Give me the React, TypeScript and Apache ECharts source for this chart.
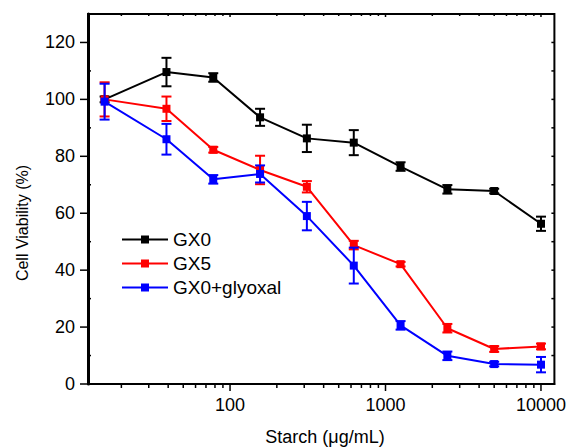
import React, { useEffect, useRef } from "react";
import * as echarts from "echarts";

// ---- data ----
const concentrations = [15.6, 39, 78, 156, 312, 625, 1250, 2500, 5000, 10000];
const seriesNames = ["GX0", "GX5", "GX0+glyoxal"];
const gx0 = [100, 109.6, 107.7, 93.7, 86.3, 84.8, 76.4, 68.4, 67.8, 56.3];
const gx0Err = [1, 5, 1.5, 3, 4.8, 4.4, 1.5, 1.5, 0.8, 2.5];
const gx5 = [100, 96.7, 82.3, 75.2, 69.3, 48.8, 42.1, 19.6, 12.3, 13.2];
const gx5Err = [6, 4.3, 1, 5, 2, 1.5, 0.8, 1.5, 1, 1];
const gx0Gly = [99.2, 86.0, 71.9, 73.8, 59, 41.6, 20.6, 9.9, 7.0, 6.8];
const gx0GlyErr = [6.3, 5.4, 1.5, 3, 5, 6.3, 1.5, 1.5, 0.8, 2.7];
const xMajorTicks = [100, 1000, 10000];
const yMajorTicks = [0, 20, 40, 60, 80, 100, 120];
const yMinorTicks = [10, 30, 50, 70, 90, 110];
const xTitle = "Starch (\u03bcg/mL)";
const yTitle = "Cell Viability (%)";

const X_MIN = 12.2;
const X_MAX = 12200;
const Y_MIN = 0;
const Y_MAX = 130;
const FONT = "'Liberation Sans', Arial, sans-serif";
const colors = ["#000000", "#ff0000", "#0000ff"];

function xMinorTicks(): number[] {
  const out: number[] = [];
  for (let d = 10; d <= 10000; d *= 10) {
    for (let k = 2; k <= 9; k++) {
      const v = d * k;
      if (v > X_MIN && v < X_MAX) out.push(v);
    }
  }
  return out;
}

export default function App() {
  const ref = useRef<HTMLDivElement>(null);
  useEffect(() => {
    if (!ref.current) return;
    const chart = echarts.init(ref.current, undefined, { renderer: "svg" });

    // tick marks: [x, y, dx, dy]
    const ticks: number[][] = [];
    xMajorTicks.forEach((v) => {
      ticks.push([v, Y_MIN, 0, 7]);
      ticks.push([v, Y_MAX, 0, 3]);
    });
    xMinorTicks().forEach((v) => {
      ticks.push([v, Y_MIN, 0, 4]);
      ticks.push([v, Y_MAX, 0, 2]);
    });
    yMajorTicks.forEach((v) => {
      ticks.push([X_MIN, v, -8, 0]);
      ticks.push([X_MAX, v, -3, 0]);
    });
    yMinorTicks.forEach((v) => {
      ticks.push([X_MIN, v, 3, 0]);
      ticks.push([X_MAX, v, -3, 0]);
    });

    const values = [gx0, gx5, gx0Gly];
    const errs = [gx0Err, gx5Err, gx0GlyErr];

    const lineSeries = values.map((vals, i) => ({
      name: seriesNames[i],
      type: "line",
      data: concentrations.map((c, j) => [c, vals[j]]),
      symbol: "rect",
      symbolSize: 8,
      z: 3 + i * 2,
      lineStyle: { color: colors[i], width: 2 },
      itemStyle: { color: colors[i] },
      emphasis: { disabled: true },
    }));

    const errSeries = values.map((vals, i) => ({
      name: seriesNames[i] + "_err",
      type: "custom",
      z: 4 + i * 2,
      clip: false,
      data: concentrations.map((c, j) => [c, vals[j] - errs[i][j], vals[j] + errs[i][j]]),
      encode: { x: 0, y: [1, 2] },
      renderItem: (params: any, api: any) => {
        const lo = api.coord([api.value(0), api.value(1)]);
        const hi = api.coord([api.value(0), api.value(2)]);
        const w = 5;
        const st = { stroke: colors[i], lineWidth: 2 };
        return {
          type: "group",
          children: [
            { type: "line", shape: { x1: lo[0], y1: lo[1], x2: hi[0], y2: hi[1] }, style: st },
            { type: "line", shape: { x1: lo[0] - w, y1: lo[1], x2: lo[0] + w, y2: lo[1] }, style: st },
            { type: "line", shape: { x1: hi[0] - w, y1: hi[1], x2: hi[0] + w, y2: hi[1] }, style: st },
          ],
        };
      },
    }));

    const tickSeries = {
      type: "custom",
      name: "ticks",
      clip: false,
      silent: true,
      z: 10,
      data: ticks,
      renderItem: (params: any, api: any) => {
        const p = api.coord([api.value(0), api.value(1)]);
        const dx = api.value(2);
        const dy = api.value(3);
        return {
          type: "line",
          shape: { x1: p[0], y1: p[1], x2: p[0] + dx, y2: p[1] + dy },
          style: { stroke: "#000", lineWidth: 1.5 },
        };
      },
    };

    chart.setOption({
      animation: false,
      backgroundColor: "#ffffff",
      grid: {
        left: 88,
        right: 14,
        top: 14,
        bottom: 64,
        show: true,
        borderColor: "#000",
        borderWidth: 2,
        backgroundColor: "transparent",
      },
      graphic: [
        {
          type: "text",
          x: 22,
          y: 223,
          rotation: Math.PI / 2,
          style: {
            text: yTitle,
            fontSize: 16,
            fontFamily: FONT,
            fill: "#000",
            textAlign: "center",
            textVerticalAlign: "middle",
          },
        },
        {
          type: "text",
          x: 325,
          y: 437,
          style: {
            text: xTitle,
            fontSize: 18,
            fontFamily: FONT,
            fill: "#000",
            textAlign: "center",
            textVerticalAlign: "middle",
          },
        },
      ],
      legend: {
        data: seriesNames,
        orient: "vertical",
        left: 116,
        top: 225,
        itemWidth: 46,
        itemHeight: 10,
        itemGap: 5,
        textStyle: { fontSize: 19, fontFamily: FONT, color: "#000" },
        selectedMode: false,
      },
      xAxis: {
        type: "log",
        logBase: 10,
        min: X_MIN,
        max: X_MAX,
        axisLine: { show: true, lineStyle: { color: "#000", width: 2 } },
        axisTick: { show: false },
        splitLine: { show: false },
        minorTick: { show: false },
        axisLabel: {
          margin: 12,
          fontSize: 18,
          fontFamily: FONT,
          color: "#000",
          showMinLabel: false,
          showMaxLabel: false,
          formatter: (v: number) => {
            const l = Math.log10(v);
            return Math.abs(l - Math.round(l)) < 1e-6 && xMajorTicks.indexOf(Math.round(v)) >= 0
              ? String(Math.round(v))
              : "";
          },
        },
      },
      yAxis: {
        type: "value",
        min: Y_MIN,
        max: Y_MAX,
        interval: 10,
        axisLine: { show: true, lineStyle: { color: "#000", width: 3 } },
        axisTick: { show: false },
        splitLine: { show: false },
        axisLabel: {
          margin: 13,
          fontSize: 18,
          fontFamily: FONT,
          color: "#000",
          formatter: (v: number) => (yMajorTicks.indexOf(v) >= 0 ? String(v) : ""),
        },
      },
      series: [...lineSeries, ...errSeries, tickSeries],
    });
    return () => chart.dispose();
  }, []);
  return (
    <div
      ref={ref}
      style={{ position: "fixed", left: 0, top: 0, width: 569, height: 448 }}
    />
  );
}
